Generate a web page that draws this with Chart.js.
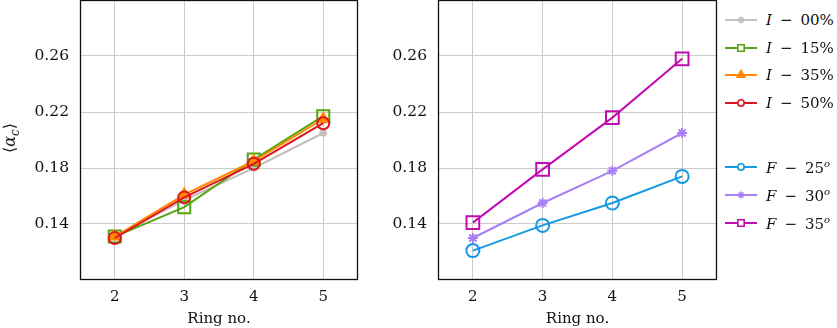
<!DOCTYPE html>
<html>
<head>
<meta charset="utf-8">
<script src="https://cdn.jsdelivr.net/npm/chart.js@4.4.1/dist/chart.umd.min.js"></script>
<style>
  html, body { margin: 0; padding: 0; background: #fff; }
  #wrap { position: relative; width: 837px; height: 328px; overflow: hidden; font-family: "DejaVu Serif", serif; }
  #c1 { position: absolute; left: 0; top: 0; }
  #c2 { position: absolute; left: 360px; top: 0; }
  #ytitle { position: absolute; left: 11px; top: 138px; transform: translate(-50%, -50%) rotate(-90deg); font-size: 16px; white-space: nowrap; color: #111; }
  #ytitle sub { font-size: 12px; }
  .lg { position: absolute; left: 725px; height: 20px; display: flex; align-items: center; font-size: 15px; color: #111; white-space: nowrap; }
  .lg canvas { width: 32px; height: 16px; margin-right: 9px; }
  .lg .m { margin: 0 8px; }
  .lg sup { font-size: 10px; }
</style>
</head>
<body>
<div id="wrap">
  <canvas id="c1" width="360" height="328"></canvas>
  <canvas id="c2" width="360" height="328"></canvas>
  <div id="ytitle">⟨<i>α</i><sub><i>c</i></sub>⟩</div>
  <div id="legend"></div>
</div>
<script>
// ---- data ----
const ringNo = [2, 3, 4, 5];
const xTicks = [2, 3, 4, 5];
const yTicks = [0.14, 0.18, 0.22, 0.26];
const i00 = [0.131, 0.157, 0.180, 0.205];
const i15 = [0.131, 0.152, 0.186, 0.217];
const i35 = [0.131, 0.161, 0.185, 0.215];
const i50 = [0.130, 0.159, 0.183, 0.212];
const f25 = [0.121, 0.139, 0.155, 0.174];
const f30 = [0.130, 0.155, 0.178, 0.205];
const f35 = [0.141, 0.179, 0.216, 0.258];
const seriesLabelsI = ['00%', '15%', '35%', '50%'];
const seriesLabelsF = ['25', '30', '35'];

const FONT = '"DejaVu Serif", serif';

function pts(arr) { return ringNo.map((x, k) => ({ x: x, y: arr[k] })); }

function ds(label, arr, color, style, radius, filled, order) {
  return {
    label: label,
    data: pts(arr),
    borderColor: color,
    backgroundColor: filled ? color : 'rgba(0,0,0,0)',
    pointBorderColor: color,
    pointBackgroundColor: filled ? color : 'rgba(0,0,0,0)',
    pointStyle: style,
    pointRadius: radius,
    pointHoverRadius: radius,
    pointBorderWidth: 2,
    borderWidth: 2,
    tension: 0,
    order: order
  };
}

const colors = {
  i00: '#c4c0bc', i15: '#56a412', i35: '#ff8a00', i50: '#e0141c',
  f25: '#1499e2', f30: '#a97ff7', f35: '#c20cb0'
};

const frame = {
  id: 'frame',
  afterDraw(chart) {
    const a = chart.chartArea, ctx = chart.ctx;
    ctx.save();
    ctx.strokeStyle = '#111';
    ctx.lineWidth = 1.3;
    ctx.strokeRect(Math.round(a.left) + 0.5, Math.round(a.top) + 0.5, Math.round(a.right - a.left) - 1, Math.round(a.bottom - a.top) - 1);
    ctx.restore();
  }
};

function makeOptions(yWidth, padRight) {
  return {
    responsive: false,
    animation: false,
    events: [],
    layout: { autoPadding: false, padding: { top: 0, right: padRight, left: 0, bottom: 0 } },
    plugins: { legend: { display: false }, tooltip: { enabled: false } },
    scales: {
      x: {
        type: 'linear', min: 1.5, max: 5.5,
        afterBuildTicks(s) { s.ticks = xTicks.map(v => ({ value: v })); },
        afterFit(s) { s.height = 48; s.paddingLeft = 0; s.paddingRight = 0; },
        grid: { color: '#cbcbcb', lineWidth: 1, drawTicks: false },
        border: { display: false },
        ticks: { padding: 8, color: '#111', font: { family: FONT, size: 15 }, callback: v => String(v) },
        title: { display: true, text: 'Ring no.', color: '#111', font: { family: FONT, size: 15 }, padding: { top: 0, bottom: 0 } }
      },
      y: {
        type: 'linear', min: 0.10, max: 0.30,
        afterBuildTicks(s) { s.ticks = yTicks.map(v => ({ value: v })); },
        afterFit(s) { s.width = yWidth; s.paddingTop = 0; s.paddingBottom = 0; },
        grid: { color: '#cbcbcb', lineWidth: 1, drawTicks: false },
        border: { display: false },
        ticks: { padding: 11, color: '#111', font: { family: FONT, size: 15.5 }, callback: v => Number(v).toFixed(2) }
      }
    }
  };
}

new Chart(document.getElementById('c1'), {
  type: 'line',
  data: {
    datasets: [
      ds('I − 00%', i00, colors.i00, 'star', 4, false, 3),
      ds('I − 15%', i15, colors.i15, 'rect', 8.5, false, 2),
      ds('I − 35%', i35, colors.i35, 'triangle', 6, true, 1),
      ds('I − 50%', i50, colors.i50, 'circle', 6, false, 0)
    ]
  },
  options: makeOptions(80, 2),
  plugins: [frame]
});

new Chart(document.getElementById('c2'), {
  type: 'line',
  data: {
    datasets: [
      ds('F − 25°', f25, colors.f25, 'circle', 6.5, false, 2),
      ds('F − 30°', f30, colors.f30, 'star', 5, false, 1),
      ds('F − 35°', f35, colors.f35, 'rect', 9, false, 0)
    ]
  },
  options: makeOptions(78, 3),
  plugins: [frame]
});

// ---- legend ----
const legendItems = [
  { kind: 'I', txt: seriesLabelsI[0], color: colors.i00, style: 'star', r: 3.5, fill: false, y: 20 },
  { kind: 'I', txt: seriesLabelsI[1], color: colors.i15, style: 'rect', r: 4.5, fill: false, y: 48 },
  { kind: 'I', txt: seriesLabelsI[2], color: colors.i35, style: 'triangle', r: 4.5, fill: true, y: 75 },
  { kind: 'I', txt: seriesLabelsI[3], color: colors.i50, style: 'circle', r: 3.2, fill: false, y: 103 },
  { kind: 'F', txt: seriesLabelsF[0], color: colors.f25, style: 'circle', r: 3.2, fill: false, y: 167 },
  { kind: 'F', txt: seriesLabelsF[1], color: colors.f30, style: 'star', r: 3.5, fill: false, y: 195 },
  { kind: 'F', txt: seriesLabelsF[2], color: colors.f35, style: 'rect', r: 4.5, fill: false, y: 223 }
];
const legend = document.getElementById('legend');
legendItems.forEach(it => {
  const row = document.createElement('div');
  row.className = 'lg';
  row.style.top = (it.y - 10) + 'px';
  const cv = document.createElement('canvas');
  cv.width = 32; cv.height = 16;
  row.appendChild(cv);
  const t = document.createElement('span');
  if (it.kind === 'I') {
    t.innerHTML = '<i>I</i><span class="m">−</span>' + it.txt;
  } else {
    t.innerHTML = '<i>F</i><span class="m">−</span>' + it.txt + '<sup><i>o</i></sup>';
  }
  row.appendChild(t);
  legend.appendChild(row);
  const ctx = cv.getContext('2d');
  ctx.strokeStyle = it.color;
  ctx.lineWidth = 2;
  ctx.beginPath(); ctx.moveTo(0, 8); ctx.lineTo(32, 8); ctx.stroke();
  const opts = { pointStyle: it.style, radius: it.r, rotation: 0, borderWidth: 1.6 };
  ctx.fillStyle = it.fill ? it.color : '#fff';
  ctx.strokeStyle = it.color;
  ctx.lineWidth = 1.6;
  if (Chart.helpers && Chart.helpers.drawPoint) {
    Chart.helpers.drawPoint(ctx, opts, 16, 8);
  }
});
</script>
</body>
</html>
